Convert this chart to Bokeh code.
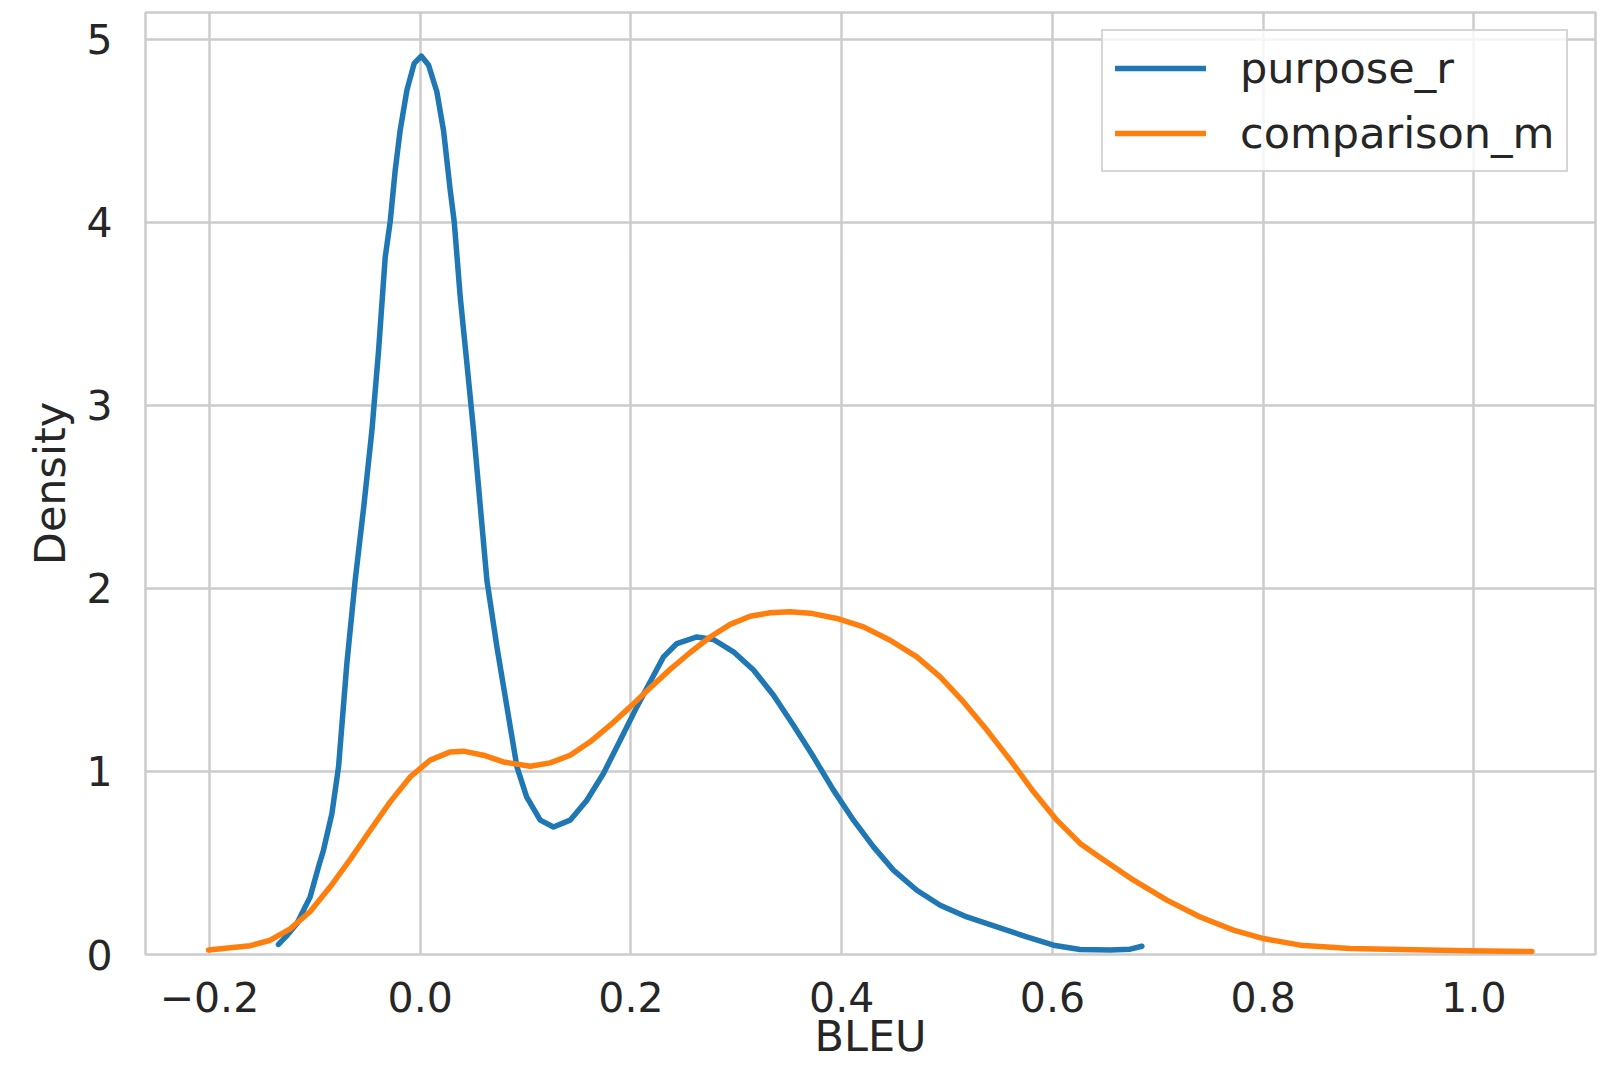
from bokeh.plotting import figure
from bokeh.models import Range1d, FixedTicker, Legend, LegendItem
from bokeh.embed import file_html
from bokeh.resources import INLINE

# ---- data ----
series_names = ["purpose_r", "comparison_m"]

purpose_x = [-0.1345, -0.127, -0.117, -0.1044, -0.0965, -0.0918, -0.0838, -0.0775,
             -0.0696, -0.0617, -0.0535, -0.0458, -0.0395, -0.0332, -0.0285, -0.0237,
             -0.019, -0.0126, -0.0057, 0.001, 0.0079, 0.0158, 0.0221, 0.0285, 0.0323,
             0.038, 0.0443, 0.0506, 0.057, 0.0633, 0.0728, 0.0823, 0.0918, 0.101,
             0.1139, 0.1265, 0.1423, 0.1582, 0.1739, 0.1898, 0.2056, 0.2183, 0.2309,
             0.2436, 0.2626, 0.2783, 0.2973, 0.3163, 0.3353, 0.3542, 0.3732, 0.3922,
             0.4112, 0.4302, 0.4491, 0.4713, 0.4935, 0.5188, 0.5473, 0.5757, 0.601,
             0.6263, 0.6548, 0.6738, 0.6849]
purpose_y = [0.055, 0.10, 0.169, 0.315, 0.479, 0.57, 0.770, 1.025,
             1.59, 2.045, 2.45, 2.865, 3.30, 3.81, 4.003, 4.286,
             4.504, 4.723, 4.869, 4.909, 4.86, 4.714, 4.504, 4.176, 4.003,
             3.593, 3.23, 2.865, 2.45, 2.045, 1.681, 1.353, 1.025, 0.861,
             0.734, 0.697, 0.734, 0.843, 0.989, 1.171, 1.353, 1.490, 1.626,
             1.699, 1.735, 1.721, 1.654, 1.554, 1.417, 1.253, 1.080, 0.898,
             0.734, 0.588, 0.461, 0.351, 0.269, 0.205, 0.151, 0.096, 0.051,
             0.027, 0.024, 0.029, 0.045]

comparison_x = [-0.2009, -0.1613, -0.1423, -0.1234, -0.1044, -0.0854, -0.0664, -0.0474,
                -0.0285, -0.0095, 0.0095, 0.0285, 0.041, 0.06, 0.079, 0.1044, 0.1234,
                0.1423, 0.1613, 0.1803, 0.1993, 0.2183, 0.2372, 0.2562, 0.2752, 0.2942,
                0.3131, 0.3321, 0.3511, 0.3701, 0.3954, 0.4207, 0.446, 0.4713, 0.4935,
                0.5156, 0.5378, 0.56, 0.5821, 0.6042, 0.6263, 0.6453, 0.677, 0.7086,
                0.7402, 0.7718, 0.8003, 0.8352, 0.8825, 0.93, 0.9933, 1.055]
comparison_y = [0.024, 0.048, 0.078, 0.140, 0.235, 0.37, 0.52, 0.679,
                0.834, 0.970, 1.062, 1.107, 1.111, 1.089, 1.052, 1.029, 1.047,
                1.089, 1.162, 1.253, 1.353, 1.458, 1.558, 1.650, 1.735, 1.804,
                1.848, 1.867, 1.873, 1.865, 1.836, 1.790, 1.717, 1.626, 1.517,
                1.380, 1.226, 1.062, 0.889, 0.734, 0.607, 0.53, 0.406, 0.297,
                0.205, 0.133, 0.087, 0.051, 0.033, 0.027, 0.020, 0.016]

x_ticks = [-0.2, 0.0, 0.2, 0.4, 0.6, 0.8, 1.0]
x_tick_labels = ["\u22120.2", "0.0", "0.2", "0.4", "0.6", "0.8", "1.0"]
y_ticks = [0, 1, 2, 3, 4, 5]
y_tick_labels = ["0", "1", "2", "3", "4", "5"]
x_label = "BLEU"
y_label = "Density"

colors = ["#1f77b4", "#ff7f0e"]
TEXT = "#262626"
GRID = "#cccccc"
FONT = "DejaVu Sans"
TICK_FS = "41px"
LABEL_FS = "43px"

XMIN, XMAX = -0.2607, 1.1154
p = figure(width=1600, height=1064, output_backend="svg", toolbar_location=None,
           x_range=Range1d(XMIN, XMAX), y_range=Range1d(0, 5.147),
           min_border_left=145, min_border_right=5, min_border_top=12,
           min_border_bottom=110)

p.background_fill_color = "white"
p.border_fill_color = "white"
p.outline_line_color = GRID
p.outline_line_width = 2.5

for ax, ticks, labels in ((p.xaxis[0], x_ticks, x_tick_labels), (p.yaxis[0], y_ticks, y_tick_labels)):
    ax.ticker = FixedTicker(ticks=ticks)
    ax.major_label_overrides = {t: l for t, l in zip(ticks, labels)}
    ax.axis_line_color = None
    ax.major_tick_line_color = None
    ax.minor_tick_line_color = None
    ax.major_label_text_font = FONT
    ax.major_label_text_font_size = TICK_FS
    ax.major_label_text_color = TEXT
    ax.axis_label_text_font = FONT
    ax.axis_label_text_font_size = LABEL_FS
    ax.axis_label_text_color = TEXT
    ax.axis_label_text_font_style = "normal"

p.xaxis.axis_label = x_label
p.yaxis.axis_label = y_label
p.xaxis.major_label_standoff = 21
p.xaxis.axis_label_standoff = -4
p.yaxis.major_label_standoff = 27
p.yaxis.axis_label_standoff = 8

p.xgrid.ticker = FixedTicker(ticks=x_ticks)
p.ygrid.ticker = FixedTicker(ticks=y_ticks)
for g in (p.xgrid[0], p.ygrid[0]):
    g.grid_line_color = GRID
    g.grid_line_width = 2.5

r1 = p.line(purpose_x, purpose_y, line_color=colors[0], line_width=5.5, line_join="round", line_cap="round")
r2 = p.line(comparison_x, comparison_y, line_color=colors[1], line_width=5.5, line_join="round", line_cap="round")

legend = Legend(items=[LegendItem(label=series_names[0], renderers=[r1]),
                       LegendItem(label=series_names[1], renderers=[r2])],
                location=(956, 782))
legend.label_text_font = FONT
legend.label_text_font_size = LABEL_FS
legend.label_text_color = TEXT
legend.glyph_width = 91
legend.glyph_height = 50
legend.label_height = 50
legend.label_standoff = 34
legend.spacing = 15
legend.padding = 12
legend.margin = 0
legend.border_line_color = GRID
legend.border_line_width = 2.5
legend.border_line_alpha = 0.8
legend.background_fill_color = "white"
legend.background_fill_alpha = 0.8
p.add_layout(legend, "center")

open("out.html", "w").write(file_html(p, INLINE))
